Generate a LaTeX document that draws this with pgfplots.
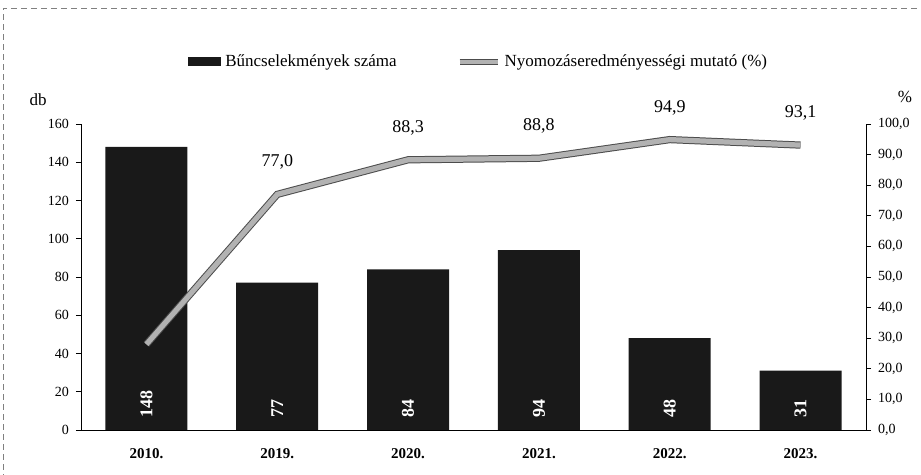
\documentclass[border=0pt]{standalone}
\usepackage{fontspec}
\setmainfont{Liberation Serif}
\usepackage{pgfplots}
\pgfplotsset{compat=1.18}
\begin{document}
\begin{tikzpicture}
\pgfplotsset{
  common/.style={scale only axis, width=392.5pt, height=153pt, xmin=-0.5, xmax=5.5,
    /pgf/number format/assume math mode=true,
    tick style={black, thin}, major tick length=2.5pt, tick align=outside,
    axis line style={-, black, thin}},
}
\begin{axis}[common,
  ymin=0, ymax=160, ytick={0,20,...,160},
  axis x line*=bottom, axis y line*=left,
  xtick=data, xticklabels={2010.,2019.,2020.,2021.,2022.,2023.},
  xticklabel style={font=\fontsize{7.5}{9}\selectfont\bfseries, yshift=-3pt},
  x tick style={draw=none},
  yticklabel style={font=\fontsize{7}{8}\selectfont},
  ybar, bar width=41pt,
  visualization depends on=y \as \rawy,
  nodes near coords,
  every node near coord/.append style={shift={(axis direction cs:0,{3-\rawy})},
    rotate=90, anchor=west, font=\fontsize{9}{10}\selectfont\bfseries, text=white},
]
\addplot[fill=black!90, draw=none] coordinates {(0,148) (1,77) (2,84) (3,94) (4,48) (5,31)};
\end{axis}
\begin{axis}[common,
  ymin=0, ymax=100, ytick={0,10,...,100},
  axis y line*=right, axis x line=none,
  yticklabel style={font=\fontsize{7}{8}\selectfont,
    /pgf/number format/.cd, fixed, fixed zerofill, precision=1, use comma},
  legend style={at={(0.508,1.203)}, anchor=center, draw=none, fill=none,
    legend columns=2, font=\fontsize{8.5}{10}\selectfont,
    /tikz/every even column/.append style={column sep=28pt}},
]
\addlegendimage{legend image code/.code={\fill[black!90] (0pt,-2pt) rectangle (16pt,2pt);}}
\addlegendentry{Bűncselekmények száma}
\addplot[draw=black!70, line width=0.5pt, double=gray!60, double distance=2.6pt,
  point meta=explicit symbolic, nodes near coords,
  every node near coord/.append style={anchor=center, yshift=16pt, text=black,
    font=\fontsize{9}{10}\selectfont},
  legend image code/.code={\draw[black!70, line width=0.5pt, double=gray!60, double distance=2pt] (0pt,0pt) -- (19pt,0pt);}]
  coordinates {(0,28) [] (1,77.0) [77,0] (2,88.3) [88,3] (3,88.8) [88,8] (4,94.9) [94,9] (5,93.1) [93,1]};
\addlegendentry{Nyomozáseredményességi mutató (\%)}
\end{axis}
\node[font=\fontsize{8.5}{10}\selectfont] at (-21.5pt,165pt) {db};
\node[font=\fontsize{8.5}{10}\selectfont] at (412pt,166.5pt) {\%};
\draw[gray, densely dashed, thin] (-39pt,-30pt) -- (-39pt,211pt) -- (430pt,211pt);
\pgfresetboundingbox
\path[use as bounding box] (-40.5pt,-22.5pt) rectangle (420pt,215pt);
\end{tikzpicture}
\end{document}
